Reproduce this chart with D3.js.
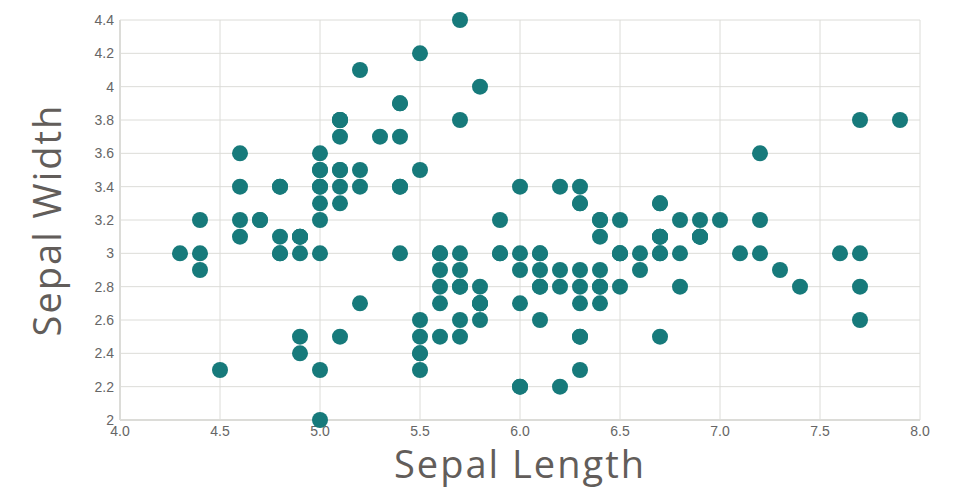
<!DOCTYPE html>
<html><head><meta charset="utf-8">
<script src="https://cdn.jsdelivr.net/npm/d3@7"></script>
<style>body{margin:0;background:#fff}</style>
</head><body><svg id="c" width="960" height="500"></svg>
<script>
const sepalLength = [5.1,4.9,4.7,4.6,5.0,5.4,4.6,5.0,4.4,4.9,5.4,4.8,4.8,4.3,5.8,5.7,5.4,5.1,5.7,5.1,5.4,5.1,4.6,5.1,4.8,5.0,5.0,5.2,5.2,4.7,4.8,5.4,5.2,5.5,4.9,5.0,5.5,4.9,4.4,5.1,5.0,4.5,4.4,5.0,5.1,4.8,5.1,4.6,5.3,5.0,
7.0,6.4,6.9,5.5,6.5,5.7,6.3,4.9,6.6,5.2,5.0,5.9,6.0,6.1,5.6,6.7,5.6,5.8,6.2,5.6,5.9,6.1,6.3,6.1,6.4,6.6,6.8,6.7,6.0,5.7,5.5,5.5,5.8,6.0,5.4,6.0,6.7,6.3,5.6,5.5,5.5,6.1,5.8,5.0,5.6,5.7,5.7,6.2,5.1,5.7,
6.3,5.8,7.1,6.3,6.5,7.6,4.9,7.3,6.7,7.2,6.5,6.4,6.8,5.7,5.8,6.4,6.5,7.7,7.7,6.0,6.9,5.6,7.7,6.3,6.7,7.2,6.2,6.1,6.4,7.2,7.4,7.9,6.4,6.3,6.1,7.7,6.3,6.4,6.0,6.9,6.7,6.9,5.8,6.8,6.7,6.7,6.3,6.5,6.2,5.9];
const sepalWidth = [3.5,3.0,3.2,3.1,3.6,3.9,3.4,3.4,2.9,3.1,3.7,3.4,3.0,3.0,4.0,4.4,3.9,3.5,3.8,3.8,3.4,3.7,3.6,3.3,3.4,3.0,3.4,3.5,3.4,3.2,3.1,3.4,4.1,4.2,3.1,3.2,3.5,3.1,3.0,3.4,3.5,2.3,3.2,3.5,3.8,3.0,3.8,3.2,3.7,3.3,
3.2,3.2,3.1,2.3,2.8,2.8,3.3,2.4,2.9,2.7,2.0,3.0,2.2,2.9,2.9,3.1,3.0,2.7,2.2,2.5,3.2,2.8,2.5,2.8,2.9,3.0,2.8,3.0,2.9,2.6,2.4,2.4,2.7,2.7,3.0,3.4,3.1,2.3,3.0,2.5,2.6,3.0,2.6,2.3,2.7,3.0,2.9,2.9,2.5,2.8,
3.3,2.7,3.0,2.9,3.0,3.0,2.5,2.9,2.5,3.6,3.2,2.7,3.0,2.5,2.8,3.2,3.0,3.8,2.6,2.2,3.2,2.8,2.8,2.7,3.3,3.2,2.8,3.0,2.8,3.0,2.8,3.8,2.8,2.8,2.6,3.0,3.4,3.1,3.0,3.1,3.1,3.1,2.7,3.2,3.3,3.0,2.5,3.0,3.4,3.0];
const xTicks = [4.0,4.5,5.0,5.5,6.0,6.5,7.0,7.5,8.0];
const yTicks = [2,2.2,2.4,2.6,2.8,3,3.2,3.4,3.6,3.8,4,4.2,4.4];
const xTitle = "Sepal Length", yTitle = "Sepal Width";

const svg = d3.select("#c");
const L=120,R=920,T=20,B=420;
const x = d3.scaleLinear().domain([4,8]).range([L,R]);
const y = d3.scaleLinear().domain([2,4.4]).range([B,T]);
const grid="#dcdcd8";
const g = svg.append("g");
g.selectAll(".vx").data(xTicks).join("line")
 .attr("x1",d=>x(d)).attr("x2",d=>x(d)).attr("y1",T).attr("y2",B)
 .attr("stroke",grid).attr("stroke-width",1);
g.selectAll(".hy").data(yTicks).join("line")
 .attr("x1",L).attr("x2",R).attr("y1",d=>y(d)).attr("y2",d=>y(d))
 .attr("stroke",grid).attr("stroke-width",1);
g.append("line").attr("x1",L).attr("x2",L).attr("y1",T).attr("y2",B).attr("stroke",grid).attr("stroke-width",2);
g.append("line").attr("x1",L).attr("x2",R).attr("y1",B).attr("y2",B).attr("stroke",grid).attr("stroke-width",2);

const tf="'Liberation Sans', Arial, sans-serif";
svg.append("g").selectAll("text").data(xTicks).join("text")
 .attr("x",d=>x(d)).attr("y",B+16).attr("text-anchor","middle")
 .attr("font-family",tf).attr("font-size",14).attr("fill","#666")
 .text(d=>d.toFixed(1));
svg.append("g").selectAll("text").data(yTicks).join("text")
 .attr("x",L-6).attr("y",d=>y(d)+5).attr("text-anchor","end")
 .attr("font-family",tf).attr("font-size",14).attr("fill","#666")
 .text(d=>String(d));

svg.append("g").selectAll("circle").data(sepalLength.map((v,i)=>[v,sepalWidth[i]])).join("circle")
 .attr("cx",d=>x(d[0])).attr("cy",d=>y(d[1])).attr("r",8).attr("fill","#177a7b");

const af="'Open Sans', Lato, sans-serif";
svg.append("text").attr("x",520).attr("y",478).attr("text-anchor","middle")
 .attr("font-family",af).attr("font-size",38).attr("letter-spacing",2).attr("fill","#625d5a").text(xTitle);
svg.append("text").attr("transform","translate(61,220) rotate(-90)").attr("text-anchor","middle")
 .attr("font-family",af).attr("font-size",38).attr("letter-spacing",2).attr("fill","#625d5a").text(yTitle);
</script></body></html>
